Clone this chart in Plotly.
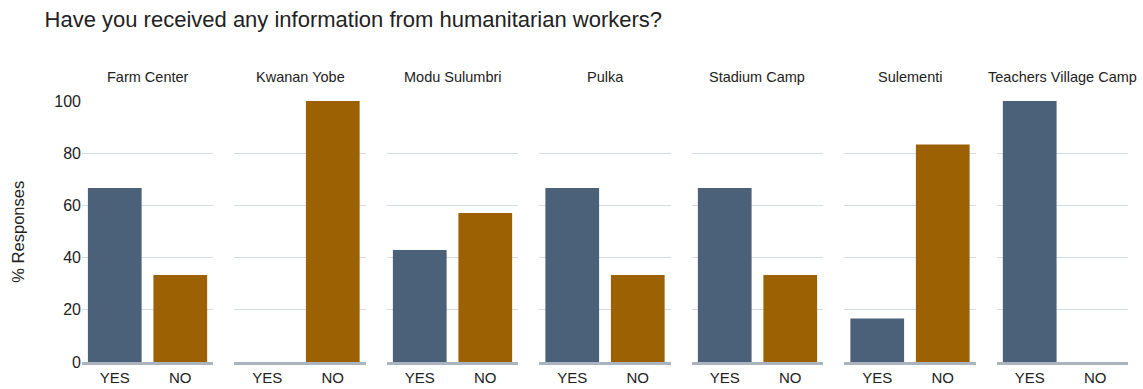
import plotly.graph_objects as go
from plotly.subplots import make_subplots

sites = ["Farm Center", "Kwanan Yobe", "Modu Sulumbri", "Pulka", "Stadium Camp", "Sulementi", "Teachers Village Camp"]
answers = ["YES", "NO"]
yes_pct = [66.7, 0, 42.9, 66.7, 66.7, 16.7, 100]
no_pct = [33.3, 100, 57.1, 33.3, 33.3, 83.3, 0]
colors = {"YES": "#4b6079", "NO": "#9c6102"}

n = len(sites)
fig = make_subplots(rows=1, cols=n, shared_yaxes=True, horizontal_spacing=0.0205,
                    subplot_titles=sites)

for i, site in enumerate(sites):
    vals = [yes_pct[i], no_pct[i]]
    fig.add_trace(go.Bar(x=answers, y=vals, marker_color=[colors[a] for a in answers],
                         marker_line_width=0, showlegend=False,
                         hovertemplate="%{x}: %{y:.1f}%<extra>" + site + "</extra>"),
                  row=1, col=i + 1)
    fig.update_xaxes(showgrid=False, showline=True, linecolor="#aab4bf", linewidth=3,
                     ticks="", tickfont=dict(size=15, color="#222"), automargin=False,
                     row=1, col=i + 1)
    fig.update_yaxes(range=[0, 100], showgrid=True, gridcolor="#d3dce4", gridwidth=1,
                     zeroline=False, dtick=20, ticks="", automargin=False, row=1, col=i + 1)

fig.update_yaxes(tickfont=dict(size=16, color="#222"), row=1, col=1)

for ann in fig.layout.annotations:
    ann.font = dict(size=14.5, color="#222")
    ann.y = 1.055

fig.add_annotation(text="% Responses", xref="paper", yref="paper", x=-0.062, y=0.5,
                   xanchor="center", yanchor="middle", textangle=-90, showarrow=False,
                   font=dict(size=16.5, color="#222"))

fig.update_layout(
    title=dict(text="Have you received any information from humanitarian workers?",
               x=0.039, xanchor="left", y=0.950, yanchor="middle",
               font=dict(size=22, color="#222")),
    font=dict(family="Liberation Sans, Arial, sans-serif"),
    width=1143, height=389,
    margin=dict(l=82, r=15, t=101, b=27),
    plot_bgcolor="white", paper_bgcolor="white",
    bargap=0.18,
)

fig.write_html("out.html", config={"displayModeBar": False},
               post_script="document.body.style.margin='0';")
